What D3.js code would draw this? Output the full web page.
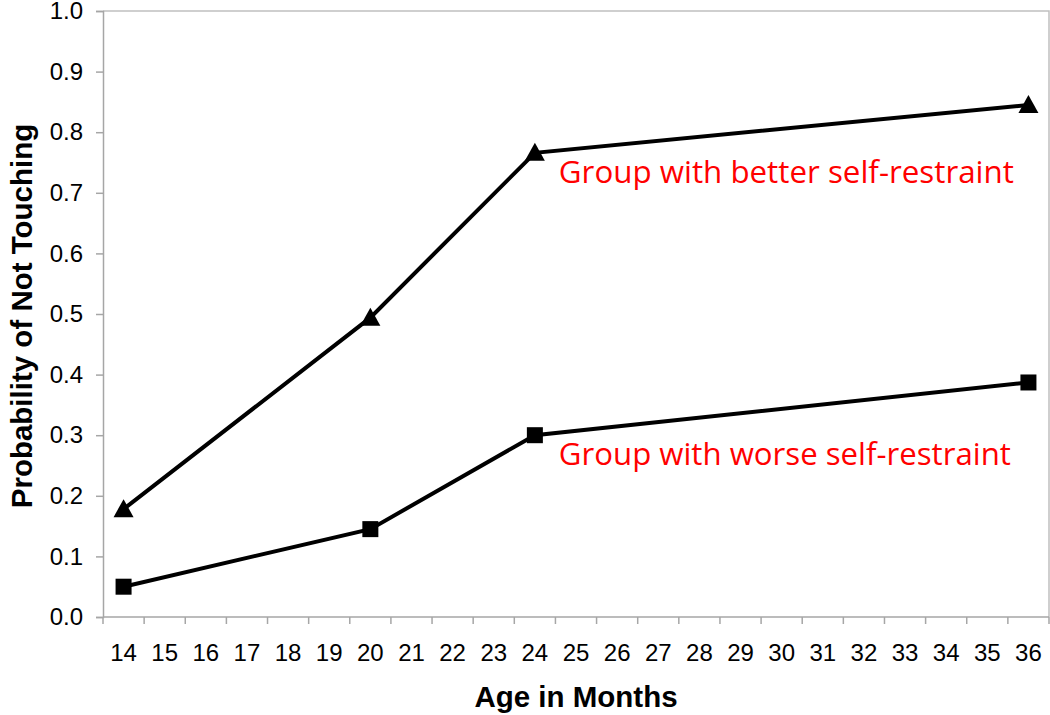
<!DOCTYPE html>
<html>
<head>
<meta charset="utf-8">
<script src="https://cdn.jsdelivr.net/npm/d3@7"></script>
<style>
  body { margin: 0; background: #fff; }
  svg { display: block; }
</style>
</head>
<body>
<svg width="1050" height="715"></svg>
<script>
// meses (categorias del eje x)
var meses = d3.range(14, 37);
// puntos medidos
var mesesMedidos = [14, 20, 24, 36];
var mejorAutocontrol = [0.178, 0.494, 0.766, 0.845];
var peorAutocontrol = [0.050, 0.145, 0.300, 0.387];
var etiquetas = ["Group with better self-restraint", "Group with worse self-restraint"];
var ticksY = d3.range(0, 11).map(function(i){ return i / 10; });

var svg = d3.select("svg");
var izq = 103, der = 1049, arriba = 11, abajo = 617;

var x = d3.scaleBand().domain(meses).range([izq, der]).paddingInner(0).paddingOuter(0);
var y = d3.scaleLinear().domain([0, 1]).range([abajo, arriba]);
var gris = "#a6a6a6";

// borde superior y derecho
svg.append("path")
	.attr("d", "M" + izq + "," + arriba + "H" + der + "V" + abajo)
	.attr("fill", "none").attr("stroke", "#c0c0c0").attr("stroke-width", 1.5);

// eje y
var ejeY = svg.append("g")
	.attr("transform", "translate(" + izq + ",0)")
	.call(d3.axisLeft(y).tickValues(ticksY).tickFormat(d3.format(".1f")).tickSize(7).tickPadding(13));
ejeY.select(".domain").attr("stroke", gris).attr("stroke-width", 1.5);
ejeY.selectAll(".tick line").attr("stroke", gris).attr("stroke-width", 1.5);
ejeY.selectAll("text").attr("font-family", "'Liberation Sans', Arial, sans-serif").attr("font-size", 24).attr("fill", "#000");

// eje x: etiquetas centradas en cada banda
var ejeX = svg.append("g")
	.attr("transform", "translate(0," + abajo + ")")
	.call(d3.axisBottom(x).tickSize(0).tickPadding(27));
ejeX.select(".domain").remove();
ejeX.selectAll("text").attr("font-family", "'Liberation Sans', Arial, sans-serif").attr("font-size", 24).attr("fill", "#000");

// linea del eje x y marcas entre categorias
svg.append("line").attr("x1", izq).attr("x2", der).attr("y1", abajo).attr("y2", abajo)
	.attr("stroke", gris).attr("stroke-width", 1.5);
svg.selectAll(".marca")
	.data(meses.concat(["fin"]))
	.enter().append("line")
	.attr("class", "marca")
	.attr("x1", function(d){ return d === "fin" ? der : x(d); })
	.attr("x2", function(d){ return d === "fin" ? der : x(d); })
	.attr("y1", abajo).attr("y2", abajo + 7)
	.attr("stroke", gris).attr("stroke-width", 1.5);

function cx(m){ return x(m) + x.bandwidth() / 2; }

var linea = d3.line()
	.x(function(d){ return cx(d[0]); })
	.y(function(d){ return y(d[1]); });

var serieMejor = mesesMedidos.map(function(m, i){ return [m, mejorAutocontrol[i]]; });
var seriePeor = mesesMedidos.map(function(m, i){ return [m, peorAutocontrol[i]]; });

[serieMejor, seriePeor].forEach(function(s){
	svg.append("path").datum(s)
		.attr("d", linea)
		.attr("fill", "none").attr("stroke", "#000").attr("stroke-width", 4);
});

// triangulos
svg.selectAll(".tri")
	.data(serieMejor)
	.enter().append("path")
	.attr("class", "tri")
	.attr("d", "M0,-10L10,8L-10,8Z")
	.attr("transform", function(d){ return "translate(" + cx(d[0]) + "," + y(d[1]) + ")"; })
	.attr("fill", "#000");

// cuadrados
svg.selectAll(".cuad")
	.data(seriePeor)
	.enter().append("rect")
	.attr("class", "cuad")
	.attr("x", function(d){ return cx(d[0]) - 8; })
	.attr("y", function(d){ return y(d[1]) - 8; })
	.attr("width", 16).attr("height", 16)
	.attr("fill", "#000");

// etiquetas rojas junto al punto de 24 meses
var i24 = mesesMedidos.indexOf(24);
[mejorAutocontrol[i24], peorAutocontrol[i24]].forEach(function(v, i){
	svg.append("text")
		.attr("x", cx(24) + 24)
		.attr("y", y(v) + 30)
		.attr("font-family", "'Open Sans', 'Noto Sans', sans-serif")
		.attr("font-size", 31)
		.attr("textLength", i === 0 ? 455 : 452)
		.attr("lengthAdjust", "spacingAndGlyphs")
		.attr("fill", "#ff0000")
		.text(etiquetas[i]);
});

// titulos de ejes
svg.append("text")
	.attr("x", (izq + der) / 2).attr("y", 707)
	.attr("text-anchor", "middle")
	.attr("font-family", "'Liberation Sans', Arial, sans-serif")
	.attr("font-size", 29.5).attr("font-weight", "bold")
	.text("Age in Months");

svg.append("text")
	.attr("transform", "translate(32,316) rotate(-90)")
	.attr("text-anchor", "middle")
	.attr("font-family", "'Liberation Sans', Arial, sans-serif")
	.attr("font-size", 29.5).attr("font-weight", "bold")
	.text("Probability of Not Touching");
</script>
</body>
</html>
